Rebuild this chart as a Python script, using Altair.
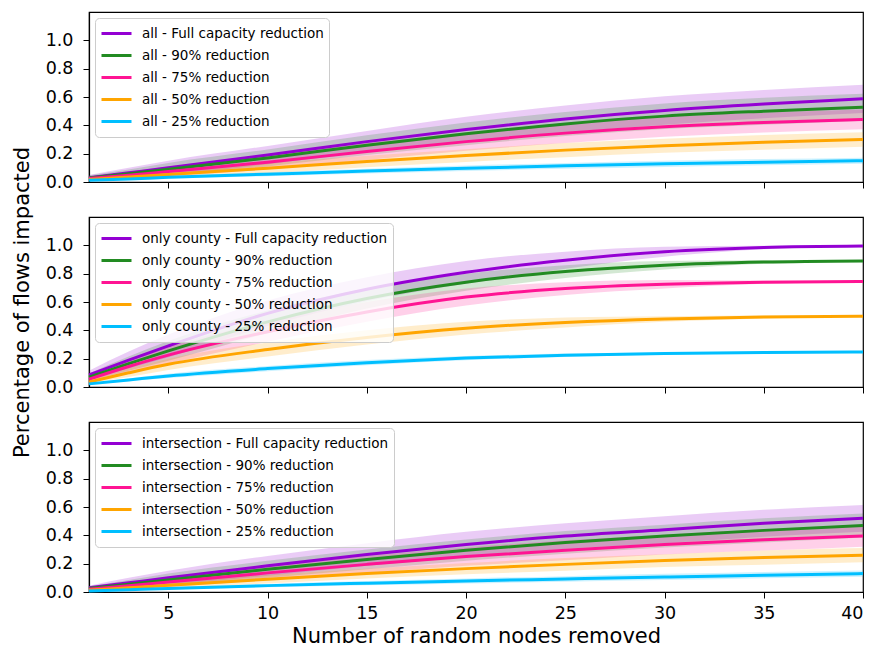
import altair as alt
import pandas as pd

# ---------------- data ----------------
x_vals = [1, 3, 5, 10, 15, 20, 25, 30, 35, 40]
x_ticks = [5, 10, 15, 20, 25, 30, 35, 40]
y_ticks = [0.0, 0.2, 0.4, 0.6, 0.8, 1.0]
levels = ["Full capacity reduction", "90% reduction", "75% reduction",
          "50% reduction", "25% reduction"]
colors = ["#9400D3", "#228B22", "#FF1493", "#FFA500", "#00BFFF"]
groups = ["all", "only county", "intersection"]

# panel 1: all  (mean values)
all_full = [0.03, 0.065, 0.10, 0.19, 0.285, 0.37, 0.445, 0.505, 0.55, 0.587]
all_90 = [0.028, 0.058, 0.09, 0.17, 0.26, 0.34, 0.41, 0.465, 0.50, 0.528]
all_75 = [0.025, 0.048, 0.074, 0.14, 0.215, 0.285, 0.345, 0.39, 0.42, 0.442]
all_50 = [0.018, 0.035, 0.053, 0.097, 0.145, 0.187, 0.225, 0.256, 0.28, 0.30]
all_25 = [0.012, 0.022, 0.033, 0.055, 0.077, 0.097, 0.114, 0.128, 0.14, 0.15]
# panel 1: half-width of shaded band
all_full_sd = [0.02, 0.035, 0.05, 0.065, 0.075, 0.09, 0.095, 0.1, 0.1, 0.1]
all_90_sd = [0.02, 0.03, 0.045, 0.06, 0.07, 0.08, 0.085, 0.09, 0.095, 0.095]
all_75_sd = [0.015, 0.025, 0.035, 0.05, 0.06, 0.065, 0.07, 0.07, 0.07, 0.07]
all_50_sd = [0.01, 0.018, 0.025, 0.035, 0.04, 0.045, 0.05, 0.05, 0.052, 0.052]
all_25_sd = [0.005, 0.008, 0.01, 0.014, 0.017, 0.02, 0.021, 0.022, 0.022, 0.022]

# panel 2: only county (mean values)
cty_full = [0.085, 0.19, 0.29, 0.52, 0.69, 0.81, 0.895, 0.955, 0.985, 0.995]
cty_90 = [0.07, 0.165, 0.255, 0.46, 0.625, 0.74, 0.815, 0.86, 0.882, 0.89]
cty_75 = [0.055, 0.145, 0.225, 0.39, 0.53, 0.635, 0.695, 0.725, 0.74, 0.745]
cty_50 = [0.035, 0.10, 0.16, 0.265, 0.35, 0.415, 0.455, 0.48, 0.494, 0.50]
cty_25 = [0.022, 0.05, 0.078, 0.13, 0.172, 0.204, 0.224, 0.236, 0.244, 0.247]
# panel 2: half-width of shaded band
cty_full_sd = [0.03, 0.06, 0.08, 0.09, 0.085, 0.08, 0.06, 0.035, 0.012, 0.005]
cty_90_sd = [0.025, 0.05, 0.07, 0.08, 0.07, 0.06, 0.045, 0.03, 0.012, 0.005]
cty_75_sd = [0.02, 0.045, 0.06, 0.07, 0.07, 0.06, 0.045, 0.03, 0.012, 0.005]
cty_50_sd = [0.01, 0.03, 0.04, 0.05, 0.05, 0.045, 0.035, 0.02, 0.01, 0.003]
cty_25_sd = [0.005, 0.01, 0.015, 0.018, 0.018, 0.015, 0.012, 0.008, 0.005, 0.002]

# panel 3: intersection (mean values)
int_full = [0.03, 0.065, 0.10, 0.185, 0.265, 0.335, 0.395, 0.44, 0.485, 0.52]
int_90 = [0.025, 0.055, 0.085, 0.16, 0.23, 0.295, 0.35, 0.395, 0.435, 0.47]
int_75 = [0.02, 0.045, 0.07, 0.135, 0.195, 0.25, 0.295, 0.335, 0.368, 0.395]
int_50 = [0.012, 0.03, 0.047, 0.09, 0.13, 0.165, 0.195, 0.222, 0.243, 0.26]
int_25 = [0.007, 0.016, 0.025, 0.045, 0.062, 0.078, 0.092, 0.106, 0.119, 0.13]
# panel 3: half-width of shaded band
int_full_sd = [0.015, 0.035, 0.05, 0.07, 0.08, 0.09, 0.09, 0.095, 0.095, 0.095]
int_90_sd = [0.015, 0.03, 0.045, 0.06, 0.07, 0.075, 0.08, 0.08, 0.085, 0.085]
int_75_sd = [0.01, 0.025, 0.035, 0.05, 0.06, 0.065, 0.07, 0.07, 0.075, 0.075]
int_50_sd = [0.008, 0.015, 0.02, 0.03, 0.035, 0.04, 0.045, 0.045, 0.05, 0.05]
int_25_sd = [0.004, 0.006, 0.008, 0.012, 0.015, 0.018, 0.02, 0.022, 0.022, 0.022]

panel_means = [
    [all_full, all_90, all_75, all_50, all_25],
    [cty_full, cty_90, cty_75, cty_50, cty_25],
    [int_full, int_90, int_75, int_50, int_25],
]
panel_sds = [
    [all_full_sd, all_90_sd, all_75_sd, all_50_sd, all_25_sd],
    [cty_full_sd, cty_90_sd, cty_75_sd, cty_50_sd, cty_25_sd],
    [int_full_sd, int_90_sd, int_75_sd, int_50_sd, int_25_sd],
]

FONT = "DejaVu Sans"


def make_panel(i):
    group = groups[i]
    labels = [f"{group} - {lv}" for lv in levels]
    rows = []
    for k, lab in enumerate(labels):
        for x, m, s in zip(x_vals, panel_means[i][k], panel_sds[i][k]):
            rows.append({"x": x, "mean": m, "lo": m - s, "hi": m + s,
                         "series": lab, "k": k})
    df = pd.DataFrame(rows)
    bottom = i == 2
    if bottom:
        x_axis = alt.Axis(values=x_ticks, grid=False, tickSize=6, labelPadding=6,
                          labelFontSize=17.5, titleFontSize=21, titlePadding=4,
                          title="Number of random nodes removed")
    else:
        x_axis = alt.Axis(values=x_ticks, labels=False, grid=False, tickSize=6,
                          title=None)
    if i == 1:
        y_axis = alt.Axis(values=y_ticks, format=".1f", grid=False, tickSize=6,
                          labelPadding=10, labelFontSize=17.5, titleFontSize=21,
                          titlePadding=13, title="Percentage of flows impacted")
    else:
        y_axis = alt.Axis(values=y_ticks, format=".1f", grid=False, tickSize=6,
                          labelPadding=10, labelFontSize=17.5, title=None)
    xenc = alt.X("x:Q", scale=alt.Scale(domain=[1, 40], nice=False, zero=False),
                 axis=x_axis)
    yscale = alt.Scale(domain=[0, 1.2], nice=False, clamp=True)
    base = alt.Chart(df)
    band = base.mark_area(opacity=0.2, interpolate="monotone").encode(
        x=xenc,
        y=alt.Y("lo:Q", scale=yscale, axis=y_axis),
        y2="hi:Q",
        fill=alt.Fill("k:N", scale=alt.Scale(domain=[0, 1, 2, 3, 4], range=colors),
                      legend=None),
    )
    line = base.mark_line(strokeWidth=3, interpolate="monotone").encode(
        x=xenc,
        y=alt.Y("mean:Q", scale=yscale, axis=y_axis),
        color=alt.Color(
            "series:N", scale=alt.Scale(domain=labels, range=colors),
            legend=alt.Legend(
                title=None, orient="top-left", offset=6, padding=5,
                strokeColor="#cccccc", fillColor="rgba(255,255,255,0.8)",
                cornerRadius=4, symbolType="stroke", symbolSize=900,
                symbolStrokeWidth=3, labelFontSize=13.5, labelFont=FONT,
                labelLimit=400, rowPadding=1, labelOffset=9, clipHeight=21,
            ),
        ),
    )
    return alt.layer(band, line).properties(width=774, height=170)


chart = alt.vconcat(
    make_panel(0), make_panel(1), make_panel(2), spacing=35, bounds="flush"
).resolve_scale(
    fill="independent", color="independent"
).configure_view(stroke="black", strokeWidth=1.2).configure_axis(
    domainColor="black", tickColor="black", labelColor="black", titleColor="black",
    labelFont=FONT, titleFont=FONT, titleFontWeight="normal", domainWidth=1.2,
).properties(
    padding={"left": 10, "top": 11, "right": 4, "bottom": 4},
    background="white",
)

chart.save("out.html", embed_options={"renderer": "svg", "actions": False})
